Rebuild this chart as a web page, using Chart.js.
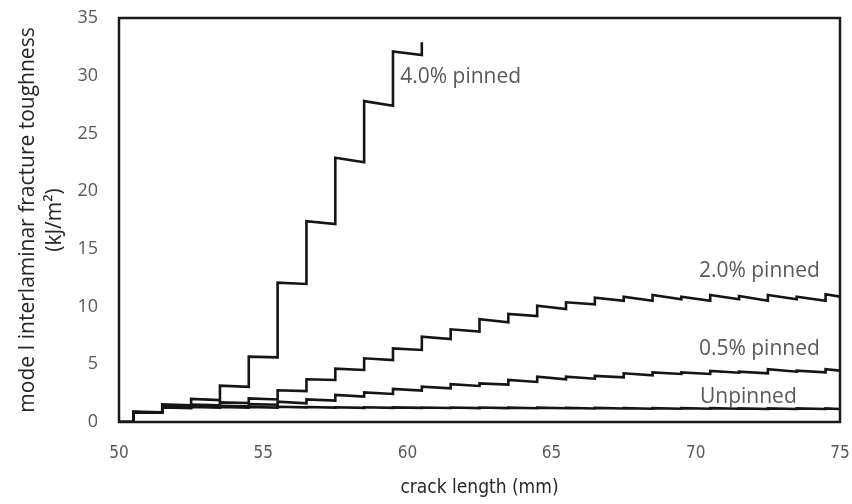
<!DOCTYPE html>
<html>
<head>
<meta charset="utf-8">
<script src="https://cdn.jsdelivr.net/npm/chart.js@4.4.0/dist/chart.umd.min.js"></script>
<style>
  html, body { margin: 0; padding: 0; background: #fff; }
  #wrap { width: 852px; height: 504px; }
</style>
</head>
<body>
<div id="wrap"><canvas id="grafico" width="852" height="504"></canvas></div>
<script>
// crack length (mm) where each step (crack jump) starts
const stepStarts = [50.5, 51.5, 52.5, 53.5, 54.5, 55.5, 56.5, 57.5, 58.5, 59.5, 60.5, 61.5, 62.5,
  63.5, 64.5, 65.5, 66.5, 67.5, 68.5, 69.5, 70.5, 71.5, 72.5, 73.5, 74.5];

// toughness at the start (peak) and end (low) of each step, kJ/m2
const pinned40Peaks = [0.9, 1.53, 2.0, 3.15, 5.66, 12.07, 17.4, 22.9, 27.8, 32.1, 32.9];
const pinned40Lows  = [0.85, 1.45, 1.9, 3.05, 5.6, 11.96, 17.15, 22.5, 27.4, 31.8];

const pinned20Peaks = [0.85, 1.4, 1.5, 1.7, 2.05, 2.75, 3.7, 4.62, 5.52, 6.38, 7.39, 8.03, 8.9,
  9.36, 10.08, 10.37, 10.77, 10.86, 11.0, 10.86, 11.0, 10.92, 11.0, 10.86, 11.06];
const pinned20Lows  = [0.8, 1.35, 1.45, 1.65, 1.95, 2.68, 3.64, 4.51, 5.37, 6.24, 7.19, 7.83, 8.64,
  9.18, 9.79, 10.2, 10.49, 10.51, 10.63, 10.51, 10.63, 10.51, 10.63, 10.51, 10.86];

const pinned05Peaks = [0.85, 1.3, 1.35, 1.4, 1.55, 1.76, 1.96, 2.34, 2.57, 2.86, 3.06, 3.27, 3.35,
  3.64, 3.93, 3.93, 3.99, 4.22, 4.3, 4.3, 4.42, 4.36, 4.57, 4.45, 4.57];
const pinned05Lows  = [0.8, 1.25, 1.3, 1.35, 1.5, 1.62, 1.85, 2.2, 2.43, 2.72, 2.92, 3.12, 3.24,
  3.47, 3.7, 3.75, 3.87, 4.05, 4.16, 4.16, 4.27, 4.22, 4.36, 4.3, 4.45];

const unpinnedPeaks = [0.85, 1.25, 1.3, 1.3, 1.3, 1.32, 1.3, 1.28, 1.28, 1.27, 1.26, 1.25, 1.25,
  1.24, 1.24, 1.22, 1.22, 1.2, 1.2, 1.2, 1.2, 1.18, 1.18, 1.18, 1.18];
const unpinnedLows  = [0.8, 1.2, 1.25, 1.25, 1.25, 1.27, 1.25, 1.23, 1.23, 1.22, 1.21, 1.2, 1.2,
  1.19, 1.19, 1.17, 1.17, 1.15, 1.15, 1.15, 1.15, 1.13, 1.13, 1.13, 1.13];

const xTicks = [50, 55, 60, 65, 70, 75];
const yTicks = [0, 5, 10, 15, 20, 25, 30, 35];

// curve labels: text, x value, y value, alignment
const curveLabels = [
  { text: '4.0% pinned', x: 59.75, y: 29.9, align: 'left' },
  { text: '2.0% pinned', x: 74.3, y: 13.1, align: 'right' },
  { text: '0.5% pinned', x: 74.3, y: 6.3, align: 'right' },
  { text: 'Unpinned', x: 73.5, y: 2.2, align: 'right' }
];

const condensed = '"DejaVu Sans Condensed", "Liberation Sans Narrow", "Open Sans"';

// build saw-tooth step points
function stepPoints(peaks, lows, endX) {
  const pts = [{ x: 50, y: 0 }, { x: stepStarts[0], y: 0 }];
  for (let i = 0; i < lows.length; i++) {
    const x1 = i + 1 < lows.length ? stepStarts[i + 1] : endX;
    pts.push({ x: stepStarts[i], y: peaks[i] });
    pts.push({ x: x1, y: lows[i] });
  }
  if (peaks.length > lows.length) {
    pts.push({ x: endX, y: peaks[peaks.length - 1] });
  }
  return pts;
}

function serie(label, pts) {
  return {
    label: label,
    data: pts,
    borderColor: '#151515',
    borderWidth: 2.6,
    pointRadius: 0,
    tension: 0,
    fill: false
  };
}

const frame = {
  id: 'frame',
  afterDatasetsDraw(chart) {
    const a = chart.chartArea;
    const c = chart.ctx;
    c.save();
    c.strokeStyle = '#1a1a1a';
    c.lineWidth = 2.5;
    c.strokeRect(a.left, a.top, a.right - a.left, a.bottom - a.top);
    c.fillStyle = '#595959';
    c.font = '21px "Open Sans"';
    c.textBaseline = 'middle';
    curveLabels.forEach(l => {
      c.textAlign = l.align;
      c.fillText(l.text, chart.scales.x.getPixelForValue(l.x), chart.scales.y.getPixelForValue(l.y));
    });
    c.restore();
  }
};

new Chart(document.getElementById('grafico').getContext('2d'), {
  type: 'line',
  data: {
    datasets: [
      serie('4.0% pinned', stepPoints(pinned40Peaks, pinned40Lows, 60.5)),
      serie('2.0% pinned', stepPoints(pinned20Peaks, pinned20Lows, 75)),
      serie('0.5% pinned', stepPoints(pinned05Peaks, pinned05Lows, 75)),
      serie('Unpinned', stepPoints(unpinnedPeaks, unpinnedLows, 75))
    ]
  },
  options: {
    responsive: false,
    animation: false,
    layout: { padding: { left: 0, right: 12, top: 18, bottom: 0 } },
    plugins: {
      legend: { display: false },
      tooltip: { enabled: false }
    },
    scales: {
      x: {
        type: 'linear',
        min: 50,
        max: 75,
        afterBuildTicks: s => { s.ticks = xTicks.map(v => ({ value: v })); },
        afterFit: s => { s.height = 82; s.paddingLeft = 0; s.paddingRight = 0; },
        grid: { display: false, drawTicks: false },
        border: { display: false },
        ticks: {
          color: '#595959',
          padding: 21,
          font: { family: condensed, size: 17 }
        },
        title: {
          display: true,
          text: 'crack length (mm)',
          color: '#262626',
          padding: { top: 0, bottom: 5 },
          font: { family: condensed, size: 19 }
        }
      },
      y: {
        min: 0,
        max: 35,
        afterBuildTicks: s => { s.ticks = yTicks.map(v => ({ value: v })); },
        afterFit: s => { s.width = 119; s.paddingTop = 0; s.paddingBottom = 0; },
        grid: { display: false, drawTicks: false },
        border: { display: false },
        ticks: {
          color: '#595959',
          padding: 21,
          font: { family: '"Open Sans"', size: 18 }
        },
        title: {
          display: true,
          text: ['mode I interlaminar fracture toughness', '(kJ/m²)'],
          color: '#262626',
          padding: { top: 14, bottom: 0 },
          font: { family: '"Open Sans"', size: 21, lineHeight: 1.3 }
        }
      }
    }
  },
  plugins: [frame]
});
</script>
</body>
</html>
